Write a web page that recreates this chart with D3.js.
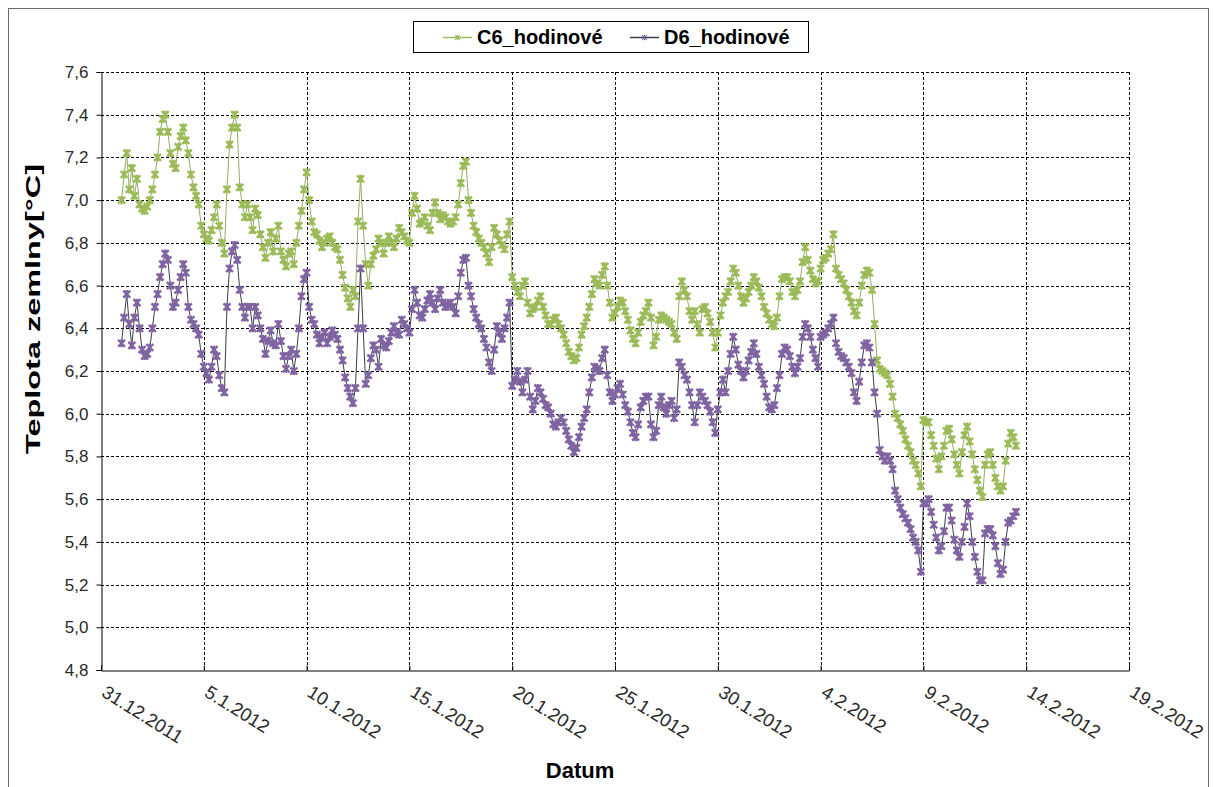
<!DOCTYPE html>
<html>
<head>
  <meta charset="utf-8">
  <title>Teplota zeminy</title>
  <script src="https://d3js.org/d3.v7.min.js"></script>
</head>
<style>
  body { margin: 0; background: white; }
  text { font-family: Arial, "Liberation Sans", sans-serif; }
  .grid line { stroke: #000; stroke-dasharray: 3,2; stroke-width: 1; }
</style>
<body>
</body>
<script>

  // first reading at 1.1.2012 0:00, then one every 3 hours
  var startDate = new Date(2012, 0, 1, 0, 0);
  var stepHours = 3;

  var seriesNames = ["C6_hodinové", "D6_hodinové"];

  // one row = one day (8 readings)
  var c6 = [
    7.00, 7.12, 7.22, 7.05, 7.15, 7.02, 7.10, 6.98,
    6.96, 6.95, 6.97, 7.00, 7.05, 7.12, 7.20, 7.32,
    7.38, 7.40, 7.32, 7.22, 7.17, 7.15, 7.25, 7.30,
    7.34, 7.28, 7.22, 7.12, 7.06, 7.02, 6.98, 6.88,
    6.84, 6.82, 6.81, 6.86, 6.92, 6.98, 6.88, 6.80,
    6.75, 7.05, 7.26, 7.34, 7.40, 7.34, 7.06, 6.98,
    6.92, 6.98, 6.92, 6.86, 6.96, 6.93, 6.84, 6.78,
    6.73, 6.80, 6.85, 6.76, 6.82, 6.88, 6.76, 6.72,
    6.69, 6.75, 6.76, 6.70, 6.80, 6.88, 6.95, 7.05,
    7.13, 7.00, 6.90, 6.85, 6.84, 6.81, 6.78, 6.80,
    6.82, 6.83, 6.80, 6.78, 6.77, 6.72, 6.65, 6.59,
    6.54, 6.50, 6.58, 6.55, 6.90, 7.10, 6.88, 6.70,
    6.60, 6.70, 6.74, 6.77, 6.82, 6.80, 6.75, 6.80,
    6.83, 6.80, 6.78, 6.82, 6.87, 6.85, 6.83, 6.81,
    6.80, 6.94, 7.02, 6.96, 6.89, 6.90, 6.92, 6.88,
    6.86, 6.94, 6.99, 6.94, 6.91, 6.93, 6.92, 6.90,
    6.89, 6.90, 6.92, 6.98, 7.08, 7.16, 7.18, 7.00,
    6.94, 6.88, 6.85, 6.82, 6.80, 6.78, 6.75, 6.71,
    6.78, 6.87, 6.84, 6.81, 6.79, 6.77, 6.84, 6.90,
    6.64, 6.60, 6.57, 6.55, 6.60, 6.62, 6.52, 6.47,
    6.49, 6.50, 6.53, 6.55, 6.50, 6.46, 6.42, 6.42,
    6.44, 6.45, 6.42, 6.40, 6.37, 6.33, 6.29, 6.27,
    6.25, 6.26, 6.31, 6.37, 6.41, 6.45, 6.50, 6.56,
    6.63, 6.61, 6.60, 6.65, 6.69, 6.60, 6.52, 6.45,
    6.47, 6.50, 6.53, 6.52, 6.48, 6.44, 6.39, 6.35,
    6.33, 6.38, 6.43, 6.46, 6.48, 6.52, 6.45, 6.32,
    6.36, 6.44, 6.46, 6.45, 6.44, 6.43, 6.42, 6.38,
    6.35, 6.55, 6.62, 6.58, 6.55, 6.48, 6.44, 6.48,
    6.42, 6.38, 6.49, 6.50, 6.47, 6.43, 6.38, 6.31,
    6.38, 6.46, 6.52, 6.55, 6.57, 6.62, 6.68, 6.66,
    6.60, 6.55, 6.52, 6.54, 6.57, 6.60, 6.64, 6.62,
    6.59, 6.55, 6.50, 6.47, 6.44, 6.42, 6.41, 6.45,
    6.55, 6.63, 6.64, 6.64, 6.62, 6.57, 6.55, 6.58,
    6.62, 6.71, 6.78, 6.72, 6.67, 6.63, 6.61, 6.62,
    6.68, 6.72, 6.73, 6.75, 6.77, 6.84, 6.68, 6.65,
    6.63, 6.61, 6.58, 6.55, 6.52, 6.48, 6.46, 6.52,
    6.60, 6.65, 6.67, 6.66, 6.58, 6.42, 6.25, 6.21,
    6.20, 6.19, 6.18, 6.14, 6.08, 6.00, 5.98, 5.95,
    5.92, 5.88, 5.85, 5.82, 5.78, 5.76, 5.72, 5.66,
    5.97, 5.96, 5.96, 5.90, 5.85, 5.79, 5.74, 5.80,
    5.85, 5.92, 5.93, 5.88, 5.81, 5.76, 5.72, 5.82,
    5.90, 5.94, 5.87, 5.81, 5.74, 5.69, 5.64, 5.61,
    5.76, 5.81, 5.82, 5.76, 5.70, 5.66, 5.64, 5.66,
    5.78, 5.86, 5.91, 5.89, 5.85
  ];

  var d6 = [
    6.33, 6.45, 6.56, 6.42, 6.32, 6.45, 6.52, 6.40,
    6.30, 6.27, 6.28, 6.31, 6.40, 6.50, 6.56, 6.64,
    6.70, 6.75, 6.72, 6.60, 6.50, 6.52, 6.58, 6.64,
    6.70, 6.66, 6.50, 6.44, 6.42, 6.40, 6.37, 6.28,
    6.22, 6.19, 6.16, 6.22, 6.30, 6.27, 6.18, 6.12,
    6.10, 6.50, 6.68, 6.76, 6.79, 6.72, 6.58, 6.50,
    6.45, 6.50, 6.50, 6.40, 6.50, 6.46, 6.40, 6.35,
    6.28, 6.34, 6.39, 6.33, 6.32, 6.42, 6.34, 6.27,
    6.21, 6.27, 6.30, 6.20, 6.28, 6.40, 6.55, 6.63,
    6.66, 6.50, 6.44, 6.42, 6.37, 6.33, 6.36, 6.38,
    6.33, 6.36, 6.39, 6.37, 6.35, 6.30, 6.25, 6.17,
    6.12, 6.08, 6.05, 6.12, 6.40, 6.68, 6.40, 6.14,
    6.18, 6.26, 6.32, 6.30, 6.22, 6.35, 6.32, 6.31,
    6.34, 6.38, 6.41, 6.38, 6.37, 6.44, 6.42, 6.40,
    6.38, 6.49, 6.58, 6.52, 6.46, 6.45, 6.49, 6.53,
    6.56, 6.52, 6.49, 6.54, 6.58, 6.52, 6.50, 6.51,
    6.52, 6.50, 6.47, 6.55, 6.66, 6.72, 6.73, 6.60,
    6.55, 6.49, 6.45, 6.42, 6.40, 6.35, 6.31, 6.24,
    6.20, 6.30, 6.41, 6.38, 6.35, 6.40, 6.45, 6.52,
    6.13, 6.16, 6.20, 6.15, 6.10, 6.16, 6.20, 6.08,
    6.02, 6.06, 6.12, 6.10, 6.07, 6.04, 6.03, 6.00,
    5.95, 5.94, 5.96, 5.98, 5.96, 5.92, 5.88, 5.85,
    5.82, 5.84, 5.89, 5.94, 5.98, 6.02, 6.10, 6.17,
    6.22, 6.21, 6.20, 6.26, 6.30, 6.18, 6.10, 6.06,
    6.09, 6.12, 6.14, 6.09, 6.04, 6.01, 5.96, 5.91,
    5.89, 5.95, 6.03, 6.06, 6.08, 6.08, 5.95, 5.89,
    5.92, 6.04, 6.08, 6.03, 6.00, 6.04, 6.06, 5.98,
    6.02, 6.24, 6.22, 6.18, 6.16, 6.10, 6.04, 5.96,
    6.04, 6.10, 6.08, 6.06, 6.04, 6.01, 5.96, 5.91,
    6.02, 6.10, 6.16, 6.10, 6.20, 6.28, 6.36, 6.30,
    6.23, 6.20, 6.17, 6.20, 6.25, 6.29, 6.33, 6.28,
    6.22, 6.18, 6.14, 6.08, 6.03, 6.02, 6.04, 6.12,
    6.18, 6.28, 6.31, 6.30, 6.27, 6.22, 6.19, 6.22,
    6.26, 6.36, 6.42, 6.40, 6.36, 6.30, 6.26, 6.22,
    6.36, 6.37, 6.38, 6.40, 6.42, 6.45, 6.33, 6.29,
    6.27, 6.26, 6.24, 6.22, 6.19, 6.10, 6.06, 6.15,
    6.24, 6.32, 6.33, 6.31, 6.24, 6.10, 6.00, 5.83,
    5.80, 5.78, 5.80, 5.78, 5.74, 5.64, 5.60, 5.56,
    5.53, 5.51, 5.49, 5.46, 5.42, 5.40, 5.36, 5.26,
    5.58, 5.58, 5.60, 5.54, 5.48, 5.42, 5.36, 5.38,
    5.45, 5.56, 5.56, 5.50, 5.41, 5.36, 5.33, 5.40,
    5.47, 5.58, 5.52, 5.40, 5.33, 5.26, 5.22, 5.22,
    5.44, 5.46, 5.46, 5.43, 5.38, 5.30, 5.25, 5.27,
    5.40, 5.49, 5.50, 5.52, 5.54
  ];

  var xTickLabels = ["31.12.2011", "5.1.2012", "10.1.2012", "15.1.2012", "20.1.2012", "25.1.2012",
                     "30.1.2012", "4.2.2012", "9.2.2012", "14.2.2012", "19.2.2012"];
  var yTicks = [4.8, 5.0, 5.2, 5.4, 5.6, 5.8, 6.0, 6.2, 6.4, 6.6, 6.8, 7.0, 7.2, 7.4, 7.6];

  var colors = { "C6_hodinové": "#9bbb59", "D6_hodinové": "#8064a2" };
  var lineColors = { "C6_hodinové": "#93ad62", "D6_hodinové": "#3d3d52" };

  var W = 1213, H = 787;
  var plot = { left: 101, right: 1129, top: 72, bottom: 670 };

  var parseDay = d3.timeParse("%d.%m.%Y");
  var tickDates = xTickLabels.map(function(s) { return parseDay(s); });

  var xScale = d3.scaleTime()
    .domain([tickDates[0], tickDates[tickDates.length - 1]])
    .range([plot.left, plot.right]);

  var yScale = d3.scaleLinear()
    .domain([4.8, 7.6])
    .range([plot.bottom, plot.top]);

  function toPoints(values) {
    return values.map(function(v, i) {
      return { date: d3.timeHour.offset(startDate, i * stepHours), value: v };
    });
  }
  var series = [
    { name: seriesNames[0], points: toPoints(c6) },
    { name: seriesNames[1], points: toPoints(d6) }
  ];

  var svg = d3.select("body").append("svg")
    .attr("width", W)
    .attr("height", H);

  // outer chart frame
  svg.append("rect")
    .attr("x", 8.5).attr("y", 8.5)
    .attr("width", 1200).attr("height", 800)
    .attr("fill", "white")
    .attr("stroke", "#6b6b6b");

  // gridlines
  var grid = svg.append("g").attr("class", "grid");
  grid.selectAll(".hg")
    .data(yTicks.slice(1))
    .enter().append("line")
      .attr("x1", plot.left).attr("x2", plot.right)
      .attr("y1", function(d) { return Math.round(yScale(d)) + 0.5; })
      .attr("y2", function(d) { return Math.round(yScale(d)) + 0.5; });
  grid.selectAll(".vg")
    .data(tickDates.slice(1))
    .enter().append("line")
      .attr("y1", plot.top).attr("y2", plot.bottom)
      .attr("x1", function(d) { return Math.round(xScale(d)) + 0.5; })
      .attr("x2", function(d) { return Math.round(xScale(d)) + 0.5; });

  // y axis
  var yAxis = svg.append("g")
    .attr("transform", "translate(" + (plot.left + 0.5) + ",0)")
    .call(d3.axisLeft(yScale)
      .tickValues(yTicks)
      .tickSize(5)
      .tickPadding(8)
      .tickFormat(function(d) { return d3.format(".1f")(d).replace(".", ","); }));
  yAxis.select(".domain").attr("stroke", "#000");
  yAxis.selectAll("text").attr("font-size", 17).attr("fill", "#2a2a2a")
    .style("font-family", "Arial, 'Liberation Sans', sans-serif");

  // x axis
  var xAxis = svg.append("g")
    .attr("transform", "translate(0," + (plot.bottom + 0.5) + ")")
    .call(d3.axisBottom(xScale)
      .tickValues(tickDates)
      .tickSize(-5)
      .tickFormat(function(d, i) { return xTickLabels[i]; }));
  xAxis.select(".domain").attr("stroke", "#000");
  xAxis.selectAll("text")
    .attr("font-size", 18.5)
    .attr("fill", "#2a2a2a")
    .style("font-family", "Arial, 'Liberation Sans', sans-serif")
    .attr("text-anchor", "start")
    .attr("dy", 0)
    .attr("y", 0)
    .attr("transform", "translate(-1,25) rotate(32)");

  // axis titles
  svg.append("text")
    .attr("x", 580).attr("y", 778)
    .attr("text-anchor", "middle")
    .attr("font-size", 22).attr("font-weight", "bold")
    .text("Datum");

  svg.append("text")
    .attr("transform", "translate(40,309) rotate(-90)")
    .attr("text-anchor", "middle")
    .attr("font-size", 21).attr("font-weight", "bold")
    .attr("textLength", 290)
    .attr("lengthAdjust", "spacingAndGlyphs")
    .text("Teplota zemlny[°C]");

  // star marker like the spreadsheet one
  var starPath = "M-3.5,-3.5L3.5,3.5M-3.5,3.5L3.5,-3.5M0,-4L0,4";

  var line = d3.line()
    .x(function(d) { return xScale(d.date); })
    .y(function(d) { return yScale(d.value); });

  series.forEach(function(s) {
    var g = svg.append("g");
    g.append("path")
      .datum(s.points)
      .attr("fill", "none")
      .attr("stroke", lineColors[s.name])
      .attr("stroke-width", 1)
      .attr("d", line);
    g.selectAll(".pt")
      .data(s.points)
      .enter().append("path")
        .attr("d", starPath)
        .attr("transform", function(d) { return "translate(" + xScale(d.date) + "," + yScale(d.value) + ")"; })
        .attr("fill", "none")
        .attr("stroke", colors[s.name])
        .attr("stroke-width", 2.4);
  });

  // legend
  var legend = svg.append("g");
  legend.append("rect")
    .attr("x", 413.5).attr("y", 21.5)
    .attr("width", 395).attr("height", 31)
    .attr("fill", "white")
    .attr("stroke", "#000");
  var legendX = [443, 630];
  seriesNames.forEach(function(name, i) {
    var lx = legendX[i];
    legend.append("line")
      .attr("x1", lx).attr("x2", lx + 29)
      .attr("y1", 37.5).attr("y2", 37.5)
      .attr("stroke", i === 0 ? colors[name] : lineColors[name])
      .attr("stroke-width", 1.5);
    legend.append("path")
      .attr("d", starPath)
      .attr("transform", "translate(" + (lx + 14.5) + ",37.5) scale(0.7)")
      .attr("fill", "none")
      .attr("stroke", colors[name])
      .attr("stroke-width", 1.5);
    legend.append("text")
      .attr("x", lx + 34).attr("y", 44)
      .attr("font-size", 20).attr("font-weight", "bold")
      .text(name);
  });

</script>
</html>
